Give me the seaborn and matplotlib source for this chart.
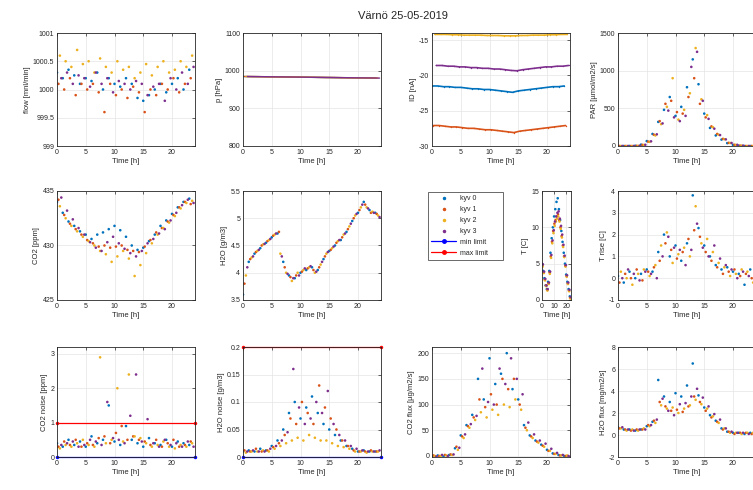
import numpy as np
import pandas as pd
import matplotlib
matplotlib.use('Agg')
import matplotlib.pyplot as plt
import seaborn as sns
from matplotlib.lines import Line2D
from matplotlib.ticker import FuncFormatter

# ---- data (hourly per chamber) ----
hours = np.arange(24)
kyv_offset = [0.0, 0.25, 0.5, 0.75]
kyv_names = ['kyv 0', 'kyv 1', 'kyv 2', 'kyv 3']
kyv_colors = ['#0072BD', '#D95319', '#EDB120', '#7E2F8E']

flow_k0 = [1000.3, 1000.2, 1000.35, 1000.25, 1000.1, 1000.2, 1000.15, 1000.3, 1000.0, 1000.2, 1000.1, 1000.05,
           1000.2, 1000.1, 999.85, 999.8, 999.9, 1000.0, 1000.1, 999.95, 1000.1, 1000.2, 1000.0, 1000.35]
flow_k1 = [1000.1, 1000.0, 1000.2, 999.9, 1000.1, 1000.0, 1000.1, 999.95, 999.6, 1000.1, 999.9, 1000.0,
           999.85, 1000.05, 999.95, 999.6, 1000.0, 999.9, 1000.1, 1000.0, 1000.2, 999.95, 1000.1, 1000.2]
flow_k2 = [1000.6, 1000.5, 1000.4, 1000.7, 1000.45, 1000.5, 1000.3, 1000.55, 1000.4, 1000.3, 1000.5, 1000.35,
           1000.4, 1000.2, 1000.3, 1000.45, 1000.25, 1000.4, 1000.5, 1000.3, 1000.35, 1000.5, 1000.4, 1000.6]
flow_k3 = [1000.2, 1000.3, 1000.1, 1000.25, 1000.2, 1000.05, 1000.3, 1000.1, 1000.2, 999.95, 1000.15, 1000.1,
           1000.0, 1000.15, 1000.1, 999.9, 1000.05, 1000.1, 999.8, 1000.2, 1000.0, 1000.3, 1000.1, 1000.4]

p_hpa = [984.5, 984.3, 984.2, 984.0, 983.8, 983.6, 983.5, 983.3, 983.1, 982.9, 982.7, 982.5,
         982.3, 982.1, 981.9, 981.8, 981.6, 981.4, 981.2, 981.0, 980.9, 980.7, 980.5, 980.3]

id_k0 = [-21.5, -21.5, -21.6, -21.6, -21.7, -21.7, -21.8, -21.9, -21.9, -22.0, -22.0, -22.1,
         -22.2, -22.3, -22.4, -22.2, -22.1, -22.0, -21.9, -21.8, -21.7, -21.6, -21.6, -21.5]
id_k1 = [-27.1, -27.1, -27.2, -27.3, -27.3, -27.4, -27.5, -27.5, -27.6, -27.7, -27.7, -27.8,
         -27.9, -28.0, -28.1, -27.9, -27.8, -27.7, -27.6, -27.5, -27.4, -27.3, -27.2, -27.1]
id_k2 = [-14.2, -14.2, -14.2, -14.25, -14.25, -14.3, -14.3, -14.3, -14.3, -14.35, -14.35, -14.35,
         -14.4, -14.4, -14.4, -14.35, -14.35, -14.3, -14.3, -14.3, -14.25, -14.25, -14.2, -14.2]
id_k3 = [-18.6, -18.6, -18.7, -18.7, -18.8, -18.8, -18.9, -18.9, -19.0, -19.0, -19.1, -19.1,
         -19.2, -19.3, -19.35, -19.2, -19.1, -19.0, -18.9, -18.8, -18.8, -18.7, -18.7, -18.6]

par_k0 = [0, 0, 0, 3, 18, 65, 160, 320, 480, 650, 400, 520, 780, 1150, 820, 430, 240, 140, 85, 38, 14, 4, 0, 0]
par_k1 = [0, 0, 0, 2, 15, 58, 150, 330, 560, 600, 450, 430, 650, 900, 560, 380, 260, 160, 95, 42, 16, 5, 0, 0]
par_k2 = [0, 0, 0, 2, 14, 55, 140, 290, 520, 900, 350, 480, 700, 1300, 620, 410, 250, 150, 90, 40, 15, 5, 0, 0]
par_k3 = [0, 0, 0, 2, 16, 62, 155, 300, 470, 380, 330, 400, 1050, 1250, 600, 360, 230, 145, 88, 40, 15, 5, 0, 0]

co2_k0 = [434.0, 433.0, 432.2, 431.8, 431.3, 431.0, 430.6, 431.0, 431.2, 431.5, 431.8, 431.4,
          430.8, 430.0, 429.6, 429.8, 430.4, 431.0, 431.8, 432.3, 432.9, 433.5, 434.0, 434.3]
co2_k1 = [434.2, 432.8, 432.0, 431.5, 431.0, 430.5, 430.2, 429.9, 430.0, 429.8, 429.9, 430.0,
          429.6, 429.5, 429.4, 429.9, 430.5, 431.2, 431.6, 432.2, 432.8, 433.5, 434.0, 433.8]
co2_k2 = [433.6, 432.5, 431.8, 431.3, 430.8, 430.4, 430.0, 429.5, 429.2, 428.5, 429.0, 429.5,
          428.8, 427.2, 428.2, 429.3, 430.2, 431.0, 431.6, 432.1, 432.7, 433.4, 433.9, 434.1]
co2_k3 = [434.4, 433.2, 432.4, 431.6, 431.0, 430.3, 429.8, 429.5, 430.3, 430.8, 430.2, 429.7,
          429.3, 429.0, 429.5, 430.2, 430.6, 431.1, 431.5, 432.3, 433.0, 433.7, 434.2, 433.9]

h2o_k0 = [3.6, 4.2, 4.35, 4.45, 4.55, 4.65, 4.72, 4.2, 3.95, 3.9, 4.0, 4.05,
          4.1, 4.05, 4.25, 4.4, 4.5, 4.6, 4.75, 4.95, 5.1, 5.3, 5.15, 5.1]
h2o_k1 = [3.8, 4.25, 4.38, 4.5, 4.58, 4.68, 4.75, 4.1, 3.92, 3.95, 4.02, 4.08,
          4.05, 4.1, 4.3, 4.42, 4.55, 4.65, 4.8, 5.0, 5.15, 5.25, 5.1, 5.08]
h2o_k2 = [3.95, 4.28, 4.4, 4.52, 4.6, 4.7, 4.35, 4.0, 3.85, 4.0, 4.05, 4.1,
          4.0, 4.15, 4.35, 4.45, 4.58, 4.7, 4.85, 5.05, 5.2, 5.2, 5.12, 5.05]
h2o_k3 = [4.1, 4.3, 4.42, 4.53, 4.62, 4.72, 4.3, 3.98, 3.9, 3.95, 4.08, 4.12,
          4.02, 4.2, 4.38, 4.48, 4.6, 4.72, 4.9, 5.08, 5.25, 5.18, 5.1, 5.02]

t_k0 = [5.0, 4.0, 3.0, 2.0, 1.5, 2.5, 4.0, 6.5, 8.5, 10.0, 11.5, 12.5, 13.5, 14.0, 12.5, 11.0, 9.5, 8.0, 6.5, 5.0, 3.5, 2.5, 1.5, 0.5]
t_k1 = [4.8, 3.8, 2.8, 2.0, 1.4, 2.3, 3.8, 6.0, 8.0, 9.5, 10.5, 11.0, 11.5, 11.8, 11.0, 10.0, 8.8, 7.5, 6.0, 4.7, 3.3, 2.3, 1.3, 0.3]
t_k2 = [4.6, 3.7, 2.7, 1.9, 1.3, 2.2, 3.6, 5.8, 7.8, 9.2, 10.2, 10.8, 11.2, 11.5, 10.8, 9.8, 8.6, 7.3, 5.9, 4.6, 3.2, 2.2, 1.2, 0.2]
t_k3 = [4.9, 3.9, 2.9, 2.0, 1.5, 2.4, 3.9, 6.2, 8.2, 9.6, 10.8, 11.5, 12.0, 12.2, 11.2, 10.2, 9.0, 7.6, 6.1, 4.8, 3.4, 2.4, 1.4, 0.4]

trise_k0 = [0.1, -0.2, 0.3, 0.0, 0.2, 0.4, 0.3, 1.2, 2.0, 1.0, 1.5, 0.8, 1.6, 3.8, 2.3, 1.5, 1.0, 0.6, 0.4, 0.5, 0.3, 0.2, -0.3, 0.4]
trise_k1 = [-0.2, 0.2, 0.0, 0.4, -0.1, 0.3, 0.5, 0.8, 1.6, 1.3, 0.9, 1.2, 1.8, 2.2, 1.9, 1.2, 0.8, 0.5, 0.2, 0.3, 0.4, 0.1, 0.2, 0.0]
trise_k2 = [0.3, 0.0, -0.3, 0.2, 0.4, 0.1, 0.6, 1.5, 2.1, 0.7, 1.1, 1.4, 1.0, 3.3, 1.6, 1.8, 1.2, 0.7, 0.5, 0.1, 0.2, 0.4, 0.3, -0.2]
trise_k3 = [0.0, 0.4, 0.2, -0.1, 0.3, 0.2, 0.0, 1.0, 1.9, 1.4, 1.3, 0.6, 1.3, 2.5, 1.4, 1.0, 1.5, 0.9, 0.6, 0.4, 0.0, 0.3, 0.1, 0.3]

co2n_k0 = [0.4, 0.3, 0.5, 0.35, 0.45, 0.3, 0.6, 0.4, 0.5, 1.5, 0.45, 0.35, 0.9, 0.5, 0.4, 0.3, 0.55, 0.4, 0.35, 0.5, 0.3, 0.45, 0.4, 0.35]
co2n_k1 = [0.3, 0.45, 0.35, 0.5, 0.3, 0.4, 0.35, 0.55, 0.6, 0.4, 0.7, 0.9, 0.5, 0.6, 0.5, 0.45, 0.35, 0.5, 0.3, 0.4, 0.5, 0.3, 0.35, 0.45]
co2n_k2 = [0.25, 0.35, 0.3, 0.4, 0.5, 0.35, 0.3, 2.9, 0.4, 0.5, 2.0, 0.45, 2.4, 0.6, 0.55, 0.4, 0.3, 0.35, 0.45, 0.3, 0.25, 0.35, 0.3, 0.4]
co2n_k3 = [0.35, 0.4, 0.45, 0.3, 0.35, 0.5, 0.45, 0.35, 1.6, 0.55, 0.5, 0.4, 1.2, 2.4, 0.45, 1.1, 0.4, 0.3, 0.5, 0.35, 0.4, 0.3, 0.45, 0.3]

h2on_k0 = [0.01, 0.012, 0.01, 0.015, 0.012, 0.02, 0.03, 0.05, 0.08, 0.1, 0.07, 0.09,
           0.11, 0.08, 0.06, 0.05, 0.04, 0.03, 0.02, 0.015, 0.01, 0.012, 0.01, 0.01]
h2on_k1 = [0.012, 0.01, 0.015, 0.01, 0.012, 0.018, 0.025, 0.04, 0.07, 0.06, 0.1, 0.08,
           0.06, 0.13, 0.09, 0.07, 0.05, 0.03, 0.02, 0.012, 0.01, 0.01, 0.012, 0.01]
h2on_k2 = [0.008, 0.01, 0.01, 0.012, 0.01, 0.015, 0.02, 0.025, 0.03, 0.035, 0.03, 0.04,
           0.035, 0.03, 0.03, 0.025, 0.02, 0.018, 0.015, 0.01, 0.01, 0.008, 0.01, 0.01]
h2on_k3 = [0.01, 0.012, 0.01, 0.01, 0.015, 0.02, 0.03, 0.045, 0.16, 0.09, 0.06, 0.07,
           0.1, 0.08, 0.12, 0.06, 0.04, 0.03, 0.02, 0.015, 0.012, 0.01, 0.01, 0.012]

co2f_k0 = [0, 1, -1, 2, 15, 40, 60, 80, 150, 110, 190, 140, 160, 200, 130, 110, 60, 40, 30, 22, 12, 5, 2, 0]
co2f_k1 = [1, 0, 2, 3, 18, 38, 58, 75, 110, 95, 120, 100, 150, 130, 150, 100, 55, 38, 28, 20, 10, 4, 1, 0]
co2f_k2 = [0, 0, 1, 2, 12, 35, 55, 70, 85, 75, 90, 80, 100, 95, 110, 90, 50, 35, 26, 18, 10, 4, 1, 1]
co2f_k3 = [-1, 2, 0, 3, 16, 42, 62, 78, 170, 105, 100, 170, 140, 190, 150, 120, 65, 42, 30, 24, 14, 6, 2, 0]

h2of_k0 = [0.7, 0.5, 0.5, 0.4, 0.5, 0.8, 1.2, 5.0, 3.5, 3.0, 3.8, 3.5, 4.5, 6.5, 3.6, 2.5, 1.8, 1.3, 0.6, 0.3, 0.2, 0.2, 0.1, 0.2]
h2of_k1 = [0.6, 0.5, 0.4, 0.5, 0.5, 0.9, 1.3, 3.0, 2.6, 2.2, 2.3, 2.1, 2.6, 3.5, 3.0, 2.2, 1.6, 1.2, 0.5, 0.3, 0.1, 0.2, 0.2, 0.1]
h2of_k2 = [0.6, 0.4, 0.5, 0.4, 0.6, 0.8, 1.1, 2.7, 2.4, 2.5, 2.0, 2.4, 2.7, 3.2, 2.8, 2.4, 1.7, 1.1, 0.6, 0.2, 0.2, 0.1, 0.2, 0.2]
h2of_k3 = [0.7, 0.5, 0.4, 0.5, 0.5, 0.9, 1.4, 3.3, 2.2, 1.8, 2.8, 2.9, 3.5, 4.2, 3.4, 2.6, 1.9, 1.4, 0.6, 0.3, 0.2, 0.2, 0.1, 0.1]

limit_time = [0, 24]
co2n_min = [0, 0]
co2n_max = [1, 1]
h2on_min = [0, 0]
h2on_max = [0.2, 0.2]


def long_frame(series):
    parts = []
    for name, off, vals in zip(kyv_names, kyv_offset, series):
        parts.append(pd.DataFrame({'time': hours + off, 'value': vals, 'kyv': name}))
    return pd.concat(parts, ignore_index=True)


sns.set_style('white')
plt.rcParams['font.family'] = ['Liberation Sans', 'DejaVu Sans']
plt.rcParams['text.color'] = '#262626'
plt.rcParams['axes.labelcolor'] = '#262626'

W, H = 753, 490
fig = plt.figure(figsize=(W / 100, H / 100), dpi=100)
short_fmt = FuncFormatter(lambda v, pos: '%g' % round(v, 6))


def box(l, t, r, b):
    return [l / W, 1 - b / H, (r - l) / W, (b - t) / H]


def style(ax, ylabel, ylim, yticks, xticks=(0, 5, 10, 15, 20)):
    ax.set_xlim(0, 24)
    ax.set_ylim(*ylim)
    ax.set_xticks(xticks)
    ax.set_yticks(yticks)
    ax.yaxis.set_major_formatter(short_fmt)
    ax.grid(True, color='#e4e4e4', lw=0.5)
    ax.set_axisbelow(True)
    ax.tick_params(direction='in', length=2, width=0.5, labelsize=5, colors='#262626',
                   pad=2, top=True, right=True)
    for s in ax.spines.values():
        s.set_color('#262626')
        s.set_linewidth(0.6)
    ax.set_xlabel('Time [h]', fontsize=5.5, labelpad=1.5)
    ax.set_ylabel(ylabel, fontsize=5.5, labelpad=1.5)


palette = dict(zip(kyv_names, kyv_colors))
rows_y = [(33, 146), (191, 300), (347, 457)]
cols_x = [57, 243, 432, 618]
pw = 138

scatter_panels = [
    ([flow_k0, flow_k1, flow_k2, flow_k3], 'flow [mnl/min]', (999, 1001), [999, 999.5, 1000, 1000.5, 1001], 0, 0),
    ([par_k0, par_k1, par_k2, par_k3], 'PAR [µmol/m2/s]', (0, 1500), [0, 500, 1000, 1500], 0, 3),
    ([co2_k0, co2_k1, co2_k2, co2_k3], 'CO2 [ppm]', (425, 435), [425, 430, 435], 1, 0),
    ([h2o_k0, h2o_k1, h2o_k2, h2o_k3], 'H2O [g/m3]', (3.5, 5.5), [3.5, 4, 4.5, 5, 5.5], 1, 1),
    ([trise_k0, trise_k1, trise_k2, trise_k3], 'T rise [C]', (-1, 4), [-1, 0, 1, 2, 3, 4], 1, 3),
    ([co2n_k0, co2n_k1, co2n_k2, co2n_k3], 'CO2 noise [ppm]', (0, 3.2), [0, 1, 2, 3], 2, 0),
    ([h2on_k0, h2on_k1, h2on_k2, h2on_k3], 'H2O noise [g/m3]', (0, 0.2), [0, 0.05, 0.1, 0.15, 0.2], 2, 1),
    ([co2f_k0, co2f_k1, co2f_k2, co2f_k3], 'CO2 flux [µg/m2/s]', (-2, 212), [0, 50, 100, 150, 200], 2, 2),
    ([h2of_k0, h2of_k1, h2of_k2, h2of_k3], 'H2O flux [mg/m2/s]', (-2, 8), [-2, 0, 2, 4, 6, 8], 2, 3),
]

axes = {}
for series, ylabel, ylim, yticks, r, c in scatter_panels:
    t, b = rows_y[r]
    ax = fig.add_axes(box(cols_x[c], t, cols_x[c] + pw, b))
    df = long_frame(series)
    sns.scatterplot(data=df, x='time', y='value', hue='kyv', palette=palette, s=3.5,
                    linewidth=0, legend=False, ax=ax)
    style(ax, ylabel, ylim, yticks)
    axes[(r, c)] = ax

# noise limits
for (r, c), lo, hi in [((2, 0), co2n_min, co2n_max), ((2, 1), h2on_min, h2on_max)]:
    ax = axes[(r, c)]
    sns.lineplot(x=limit_time, y=lo, color='blue', marker='o', markersize=2.5, markeredgewidth=0,
                 lw=0.9, ax=ax, clip_on=False)
    sns.lineplot(x=limit_time, y=hi, color='red', marker='o', markersize=2.5, markeredgewidth=0,
                 lw=0.9, ax=ax, clip_on=False)
    ax.set_xlabel('Time [h]', fontsize=5.5, labelpad=1.5)

# pressure
ax = fig.add_axes(box(cols_x[1], 33, cols_x[1] + pw, 146))
dfp = long_frame([p_hpa] * 4)
sns.lineplot(data=dfp, x='time', y='value', hue='kyv', palette=palette, estimator=None,
             lw=1, legend=False, ax=ax)
style(ax, 'p [hPa]', (800, 1100), [800, 900, 1000, 1100])

# detector current
ax = fig.add_axes(box(cols_x[2], 33, cols_x[2] + pw, 146))
dfi = long_frame([id_k0, id_k1, id_k2, id_k3])
sns.lineplot(data=dfi, x='time', y='value', hue='kyv', palette=palette, estimator=None,
             lw=1.2, marker='.', markersize=2, markeredgewidth=0, legend=False, ax=ax)
style(ax, 'ID [nA]', (-30, -14), [-30, -25, -20, -15])

# temperature (narrow)
ax = fig.add_axes(box(542, 191, 571, 300))
dft = long_frame([t_k0, t_k1, t_k2, t_k3])
sns.scatterplot(data=dft, x='time', y='value', hue='kyv', palette=palette, s=3.5,
                linewidth=0, legend=False, ax=ax)
style(ax, 'T [C]', (0, 15), [0, 5, 10, 15], xticks=(0, 10, 20))

# legend
lax = fig.add_axes(box(428, 192, 503, 262))
lax.axis('off')
handles = [Line2D([], [], ls='none', marker='.', ms=3, color=col) for col in kyv_colors]
handles += [Line2D([], [], color='blue', lw=0.9, marker='o', ms=2.5),
            Line2D([], [], color='red', lw=0.9, marker='o', ms=2.5)]
labels = kyv_names + ['min limit', 'max limit']
leg = lax.legend(handles, labels, loc='upper left', bbox_to_anchor=(0, 0, 1, 1), mode='expand',
                 borderaxespad=0, fontsize=5, frameon=True, fancybox=False, handlelength=3.5,
                 handletextpad=0.6, labelspacing=0.55, borderpad=0.5)
leg.get_frame().set_edgecolor('#262626')
leg.get_frame().set_linewidth(0.6)

fig.text(403 / W, 1 - 16 / H, 'Värnö 25-05-2019', ha='center', va='center', fontsize=8)

fig.savefig('out.png', dpi=100)
